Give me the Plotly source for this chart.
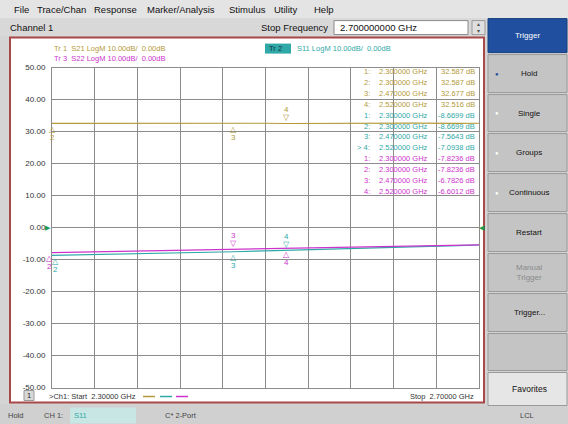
import plotly.graph_objects as go

W, H = 568, 424

# trace data (frequency in GHz, magnitude in dB)
freq_ghz = [2.30, 2.34, 2.38, 2.42, 2.46, 2.47, 2.50, 2.52, 2.56, 2.60, 2.64, 2.68, 2.70]
s21_db = [32.59, 32.63, 32.56, 32.66, 32.61, 32.68, 32.60, 32.52, 32.62, 32.58, 32.64, 32.57, 32.60]
s11_db = [-8.67, -8.45, -8.20, -7.95, -7.66, -7.56, -7.30, -7.09, -6.75, -6.40, -6.05, -5.65, -5.45]
s22_db = [-7.82, -7.60, -7.25, -7.05, -6.85, -6.78, -6.68, -6.60, -6.35, -6.10, -5.85, -5.55, -5.40]

# markers
marker_ids = ["1", "2", "3", "4"]
marker_freq_ghz = [2.30, 2.30, 2.47, 2.52]
s21_marker_db = [32.587, 32.587, 32.677, 32.516]
s11_marker_db = [-8.6699, -8.6699, -7.5643, -7.0938]
s22_marker_db = [-7.8236, -7.8236, -6.7826, -6.6012]

y_ticks = [50, 40, 30, 20, 10, 0, -10, -20, -30, -40, -50]
y_tick_labels = ["50.00", "40.00", "30.00", "20.00", "10.00", "0.00",
                 "-10.00", "-20.00", "-30.00", "-40.00", "-50.00"]

menu_items = ["File", "Trace/Chan", "Response", "Marker/Analysis", "Stimulus", "Utility", "Help"]
side_buttons = ["Trigger", "Hold", "Single", "Groups", "Continuous", "Restart",
                "Manual<br>Trigger", "Trigger...", "", "Favorites"]

GOLD = "#b49a3a"
TEAL = "#2fa9a7"
MAGENTA = "#cc33cc"
FONT = "Liberation Sans"


def px(x):
    return x / W


def py(y):
    # screenshot came out slightly squashed vertically, compensate
    return 1 - ((y - 2.4) / 0.979) / H


fig = go.Figure()
shapes = []
notes = []


def rect(x0, y0, x1, y1, fill, line="rgba(0,0,0,0)", lw=1, layer="below"):
    shapes.append(dict(type="rect", xref="paper", yref="paper", x0=px(x0), x1=px(x1),
                       y0=py(y1), y1=py(y0), fillcolor=fill, line=dict(color=line, width=lw),
                       layer=layer))


def text(x, y, s, size=8, color="#222", xanchor="left"):
    notes.append(dict(xref="paper", yref="paper", x=px(x), y=py(y), text=s, showarrow=False,
                      xanchor=xanchor, yanchor="middle",
                      font=dict(family=FONT, size=size, color=color)))


# window chrome
rect(0, -5, 568, 17, "#e4e4e4")
rect(0, 17, 487, 35, "#d8d8d8")
rect(0, 403, 568, 430, "#d0d0d0")
xs = [12, 35, 92, 145, 227, 272, 312]
for x, m in zip(xs, menu_items):
    text(x, 8, m, size=9.5, color="#111")
text(8, 26, "Channel 1", size=9.5, color="#111")
text(330, 26, "Stop Frequency", size=9.5, color="#111", xanchor="right")
rect(334, 19, 468, 33, "white", "#888")
text(338, 26, "2.700000000 GHz", size=9.5, color="#111")
rect(472, 19, 485, 33, "#e0e0e0", "#999")
text(478.5, 22.5, "▴", size=6, color="#555", xanchor="center")
text(478.5, 29.5, "▾", size=6, color="#555", xanchor="center")

# plot frame
rect(10, 36, 484, 401, "white", "#a84848", lw=2)

# side buttons
bounds = [(17, 51), (53, 91), (93, 130), (132, 170), (172, 210), (212, 250),
          (252, 290), (292, 330), (332, 369), (371, 404)]
for i, (lab, (y0, y1)) in enumerate(zip(side_buttons, bounds)):
    if i == 0:
        rect(488, y0, 567, y1, "#1f4f9e", "#16407f")
        text(527, (y0 + y1) / 2, lab, size=8, color="white", xanchor="center")
        continue
    fill = "#e6e6e6" if lab == "Favorites" else "#c4c4c4"
    rect(488, y0, 567, y1, fill, "#9a9a9a")
    col = "#8a8a8a" if "Manual" in lab else "#111"
    text(529, (y0 + y1) / 2, lab, size=8 if lab != "Favorites" else 8.5, color=col, xanchor="center")
    if lab in ("Hold", "Single", "Groups", "Continuous"):
        text(493, (y0 + y1) / 2, "●", size=6, color="#1f4f9e" if lab == "Hold" else "white")
text(527, 414, "LCL", size=7.5, color="#444", xanchor="center")

# status bar
text(6, 414, "Hold", size=7.5, color="#444")
text(42, 414, "CH 1:", size=7.5, color="#444")
rect(70, 406, 136, 422, "#c8e6e4")
text(72, 414, "S11", size=7.5, color=TEAL)
text(163, 414, "C* 2-Port", size=7.5, color="#444")

# traces
for ys, col, name in [(s21_db, GOLD, "S21"), (s11_db, TEAL, "S11"), (s22_db, MAGENTA, "S22")]:
    fig.add_trace(go.Scatter(x=freq_ghz, y=ys, mode="lines", name=name,
                             line=dict(color=col, width=1.2), hoverinfo="x+y"))

# marker symbols on traces
sides = {"S21": ["below", "below", "below", "above"],
         "S11": ["below", "below", "below", "above"],
         "S22": ["below", "below", "above", "below"]}
left_shift = {"S21": 0, "S11": 3, "S22": -3}
for name, vals, col in [("S21", s21_marker_db, GOLD), ("S11", s11_marker_db, TEAL),
                        ("S22", s22_marker_db, MAGENTA)]:
    shown = {}
    for mid, f, v, side in zip(marker_ids, marker_freq_ghz, vals, sides[name]):
        shown[f] = (mid, v, side)
    for f, (mid, v, side) in shown.items():
        sym, s1, s2 = ("▽", 6, 14) if side == "above" else ("△", -6, -14)
        xs_ = left_shift[name] if f == marker_freq_ghz[0] else 0
        for t, sh in [(sym, s1), (mid, s2)]:
            notes.append(dict(xref="x", yref="y", x=f, y=v, text=t, showarrow=False,
                              yshift=sh, xshift=xs_, font=dict(family=FONT, size=8, color=col)))

# marker readout table
row = 0
for name, vals, col in [("S21", s21_marker_db, GOLD), ("S11", s11_marker_db, TEAL),
                        ("S22", s22_marker_db, MAGENTA)]:
    for mid, f, v in zip(marker_ids, marker_freq_ghz, vals):
        y = 70 + row * 10.9
        lab = ("> " if (name == "S11" and mid == "4") else "") + mid + ":"
        text(372, y, lab, size=7.5, color=col, xanchor="right")
        text(377, y, f"{f:.6f} GHz", size=7.5, color=col)
        text(477, y, f"{v:.5g} dB", size=7.5, color=col, xanchor="right")
        row += 1

# trace headers
text(52, 47, "Tr 1  S21 LogM 10.00dB/  0.00dB", size=7.5, color=GOLD)
text(52, 57, "Tr 3  S22 LogM 10.00dB/  0.00dB", size=7.5, color=MAGENTA)
rect(265, 42, 291, 52, TEAL)
text(267, 47, "Tr 2", size=7.5, color="#134")
text(295, 47, "S11 LogM 10.00dB/  0.00dB", size=7.5, color=TEAL)

# reference level arrows
notes.append(dict(xref="x", yref="y", x=2.3, y=0, text="▶", showarrow=False, xshift=-4,
                  font=dict(size=7, color="#1a9a50")))
notes.append(dict(xref="x", yref="y", x=2.7, y=0, text="◀", showarrow=False, xshift=3,
                  font=dict(size=7, color="#1a9a50")))

# bottom line
rect(24, 389, 34, 399, "#d8d8d8", "#999")
text(29, 394, "1", size=7.5, color="#222", xanchor="center")
text(47, 395, ">Ch1: Start  2.30000 GHz", size=7.5, color="#333")
for x0, col in [(143, GOLD), (160, TEAL), (176, MAGENTA)]:
    shapes.append(dict(type="line", xref="paper", yref="paper", x0=px(x0), x1=px(x0 + 12),
                       y0=py(395), y1=py(395), line=dict(color=col, width=1.5)))
text(476, 395, "Stop  2.70000 GHz", size=7.5, color="#333", xanchor="right")

fig.update_layout(
    width=W, height=H, margin=dict(l=0, r=0, t=0, b=0),
    paper_bgcolor="#d4d4d4", plot_bgcolor="white", showlegend=False,
    shapes=shapes, annotations=notes,
    xaxis=dict(domain=[px(52), px(479)], range=[2.3, 2.7], tick0=2.3, dtick=0.04,
               showticklabels=False, showgrid=True, gridcolor="#8c8c8c", gridwidth=1,
               showline=True, mirror=True, linecolor="#8c8c8c", zeroline=False, ticks=""),
    yaxis=dict(domain=[py(386), py(66)], range=[-50, 50], tickvals=y_ticks,
               ticktext=y_tick_labels, showgrid=True, gridcolor="#8c8c8c", gridwidth=1,
               showline=True, mirror=True, linecolor="#8c8c8c", zeroline=False, ticks="",
               tickfont=dict(family=FONT, size=8, color="#333"), ticklabelstandoff=4),
)

# page has a default body margin; drop it so the figure fills the window
fig.write_html("out.html", config={"displayModeBar": False},
               post_script="document.body.style.margin='0';")
